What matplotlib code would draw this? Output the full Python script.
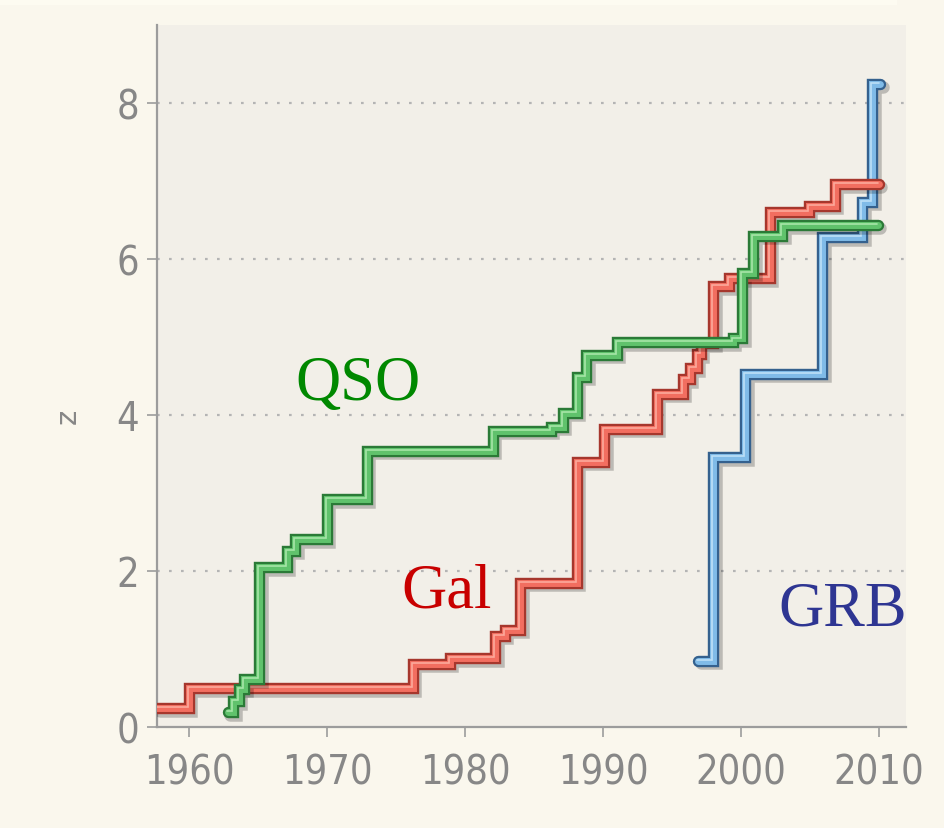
import matplotlib
matplotlib.use("Agg")
import matplotlib.pyplot as plt
import matplotlib.patheffects as pe
from matplotlib.patches import Rectangle

# highest known redshift per year (step changes), by object class
gal_year = [1957.7, 1960.0, 1976.2, 1978.9, 1982.2, 1982.9, 1984.0, 1988.1, 1990.1,
            1993.9, 1995.8, 1996.3, 1996.8, 1997.1, 1998.0, 1999.1, 2002.1, 2004.9,
            2006.8, 2010.0]
gal_z = [0.24, 0.50, 0.81, 0.88, 1.17, 1.25, 1.85, 3.40, 3.82,
         4.27, 4.46, 4.60, 4.78, 4.92, 5.65, 5.75, 6.60, 6.68,
         6.96, 6.96]

qso_year = [1962.8, 1963.2, 1963.6, 1964.0, 1965.1, 1967.1, 1967.7, 1970.0, 1972.9,
            1982.0, 1986.2, 1987.1, 1988.1, 1988.8, 1991.0, 1999.4, 2000.1, 2000.9,
            2003.0, 2009.9]
qso_z = [0.19, 0.33, 0.49, 0.61, 2.05, 2.26, 2.41, 2.92, 3.54,
         3.80, 3.85, 4.03, 4.49, 4.77, 4.93, 4.98, 5.82, 6.30,
         6.43, 6.43]

grb_year = [1996.9, 1998.0, 2000.3, 2005.9, 2008.8, 2009.5, 2010.1]
grb_z = [0.85, 3.46, 4.53, 6.28, 6.73, 8.24, 8.24]

x_ticks = [1960, 1970, 1980, 1990, 2000, 2010]
y_ticks = [0, 2, 4, 6, 8]

label_font = ["Liberation Serif", "DejaVu Serif"]
grey = "#878787"


def record_line(ax, x, y, mid, dark, light, z):
    ax.step(x, y, where="post", color=mid, lw=5.0, zorder=z,
            solid_joinstyle="miter", solid_capstyle="round",
            path_effects=[
                pe.SimpleLineShadow(offset=(1.8, -1.8), shadow_color="black",
                                    alpha=0.22, linewidth=9.0),
                pe.Stroke(linewidth=8.2, foreground=dark),
                pe.Normal(),
                pe.Stroke(linewidth=1.2, foreground=light, offset=(-0.7, 0.7)),
            ])


fig = plt.figure(figsize=(9.44, 8.29), dpi=100, facecolor="#faf7ed")
fig.patches.append(Rectangle((0, 0.993), 0.95, 0.007, transform=fig.transFigure,
                             facecolor="#fdfbf1", edgecolor="none"))
ax = fig.add_axes([0.1663, 0.1218, 0.7934, 0.8470])
ax.set_facecolor("#f2efe8")

ax.set_xlim(1957.68, 2011.96)
ax.set_ylim(0, 9.0)

for v in y_ticks[1:]:
    ax.axhline(v, color="#b4b4b4", lw=1.6, dashes=(1.2, 4.2), zorder=1)

record_line(ax, grb_year, grb_z, "#80bbe8", "#35618e", "#bde0f7", 3)
record_line(ax, gal_year, gal_z, "#f26e60", "#a6372d", "#fcaa9b", 4)
record_line(ax, qso_year, qso_z, "#60c26c", "#2b7a37", "#a6e6a8", 5)

ax.text(1967.7, 4.2, "QSO", color="#008800", fontsize=45, family=label_font,
        ha="left", va="baseline", zorder=6)
ax.text(1975.4, 1.54, "Gal", color="#c80000", fontsize=45, family=label_font,
        ha="left", va="baseline", zorder=6)
ax.text(2002.7, 1.32, "GRB", color="#2e3592", fontsize=45, family=label_font,
        ha="left", va="baseline", zorder=6)

for side in ("top", "right"):
    ax.spines[side].set_visible(False)
for side in ("left", "bottom"):
    ax.spines[side].set_color("#9c9c9c")
    ax.spines[side].set_linewidth(1.6)

ax.set_xticks(x_ticks)
ax.set_yticks(y_ticks)
ax.tick_params(axis="both", colors="#9c9c9c", length=7, width=1.2,
               labelcolor=grey, labelsize=28.5)
ax.tick_params(axis="x", pad=11)
ax.tick_params(axis="y", pad=6)
for lbl in ax.get_xticklabels() + ax.get_yticklabels():
    lbl.set_family("DejaVu Sans")
    lbl.set_fontstretch("condensed")
    lbl.set_fontweight("light")

ax.set_ylabel("z", color=grey, fontsize=21, family="DejaVu Sans")
ax.yaxis.set_label_coords(-0.10, 0.444)

fig.savefig("out.png", dpi=100, facecolor=fig.get_facecolor())
